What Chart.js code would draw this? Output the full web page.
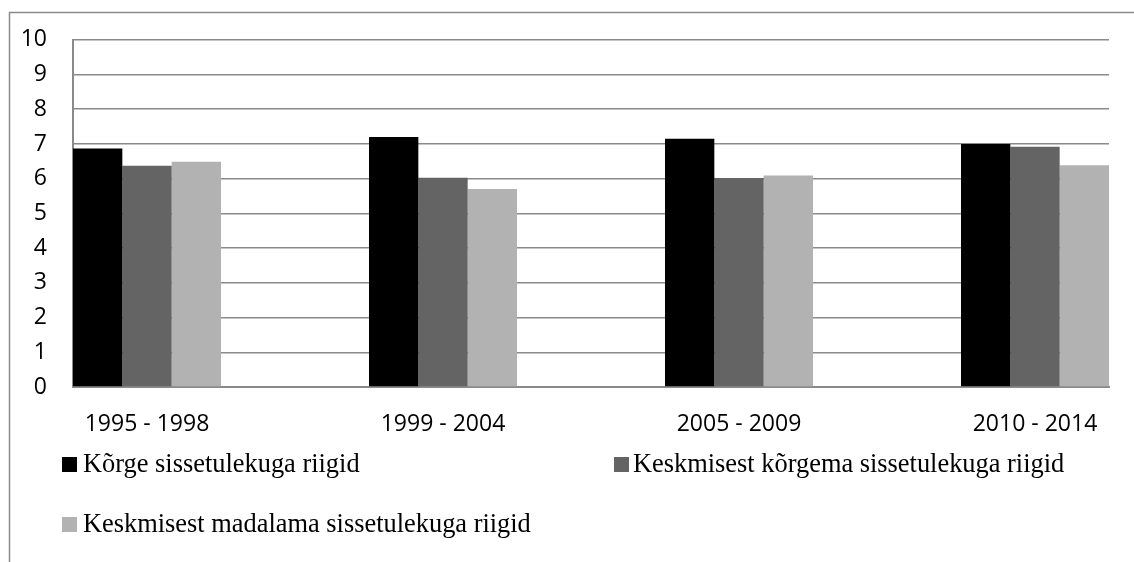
<!DOCTYPE html>
<html>
<head>
<meta charset="utf-8">
<script src="https://cdn.jsdelivr.net/npm/chart.js@4"></script>
<style>
  html, body { margin: 0; padding: 0; background: #ffffff; }
  #wrap { position: relative; width: 1134px; height: 562px; }
  canvas { display: block; }
</style>
</head>
<body>
<div id="wrap"><canvas id="c" width="1134" height="562"></canvas></div>
<script>
const categories = ['1995 - 1998', '1999 - 2004', '2005 - 2009', '2010 - 2014'];
const seriesNames = ['Kõrge sissetulekuga riigid', 'Keskmisest kõrgema sissetulekuga riigid', 'Keskmisest madalama sissetulekuga riigid'];
const highIncome = [6.87, 7.20, 7.15, 7.00];
const upperMiddleIncome = [6.37, 6.03, 6.02, 6.92];
const lowerMiddleIncome = [6.49, 5.70, 6.09, 6.39];
const yTickValues = [0, 1, 2, 3, 4, 5, 6, 7, 8, 9, 10];

const seriesColors = ['#000000', '#646464', '#b2b2b2'];
const seriesValues = [highIncome, upperMiddleIncome, lowerMiddleIncome];

const toPoints = arr => arr.map((v, i) => ({ x: i, y: v }));

const frameAndLegend = {
  id: 'frameAndLegend',
  beforeDraw(chart) {
    const ctx = chart.ctx;
    ctx.save();
    ctx.strokeStyle = '#8a8a8a';
    ctx.lineWidth = 1.5;
    ctx.beginPath();
    ctx.moveTo(9.5, 562);
    ctx.lineTo(9.5, 12.5);
    ctx.lineTo(1134, 12.5);
    ctx.stroke();
    ctx.restore();
  },
  afterDraw(chart) {
    const ctx = chart.ctx;
    const items = [
      { sx: 62, sy: 457, tx: 83, ty: 472 },
      { sx: 614, sy: 457, tx: 633, ty: 472 },
      { sx: 62, sy: 517, tx: 83, ty: 532 }
    ];
    ctx.save();
    ctx.font = '26.4px "Liberation Serif", "Times New Roman", serif';
    ctx.textBaseline = 'alphabetic';
    ctx.textAlign = 'left';
    chart.data.datasets.forEach((ds, i) => {
      const it = items[i];
      ctx.fillStyle = ds.backgroundColor;
      ctx.fillRect(it.sx, it.sy, 15, 15);
      ctx.fillStyle = '#000000';
      ctx.fillText(ds.label, it.tx, it.ty);
    });
    ctx.restore();
  }
};

new Chart(document.getElementById('c'), {
  type: 'bar',
  data: {
    datasets: seriesNames.map((name, i) => ({
      label: name,
      data: toPoints(seriesValues[i]),
      backgroundColor: seriesColors[i],
      borderWidth: 0,
      categoryPercentage: 0.5,
      barPercentage: 1.0
    }))
  },
  options: {
    responsive: false,
    animation: false,
    devicePixelRatio: 1,
    layout: { padding: { left: 0, right: 25, top: 36, bottom: 0 } },
    plugins: {
      legend: { display: false },
      tooltip: { enabled: false }
    },
    scales: {
      x: {
        type: 'linear',
        offset: false,
        min: -0.25,
        max: 3.25,
        afterBuildTicks: scale => { scale.ticks = categories.map((c, i) => ({ value: i })); },
        afterFit: scale => { scale.height = 175; },
        grid: { display: false, drawTicks: false, offset: false },
        border: { display: true, color: '#8a8a8a', width: 2 },
        ticks: {
          autoSkip: false,
          maxRotation: 0,
          padding: 24,
          color: '#000000',
          font: { family: '"Open Sans", sans-serif', size: 23 },
          callback: v => categories[v]
        }
      },
      y: {
        min: 0,
        max: 10,
        afterBuildTicks: scale => { scale.ticks = yTickValues.map(v => ({ value: v })); },
        afterFit: scale => { scale.width = 73; },
        grid: { color: '#8a8a8a', lineWidth: 1.5, drawTicks: false },
        border: { display: true, color: '#8a8a8a', width: 2 },
        ticks: {
          padding: 26,
          color: '#000000',
          font: { family: '"Open Sans", sans-serif', size: 23 }
        }
      }
    }
  },
  plugins: [frameAndLegend]
});
</script>
</body>
</html>
